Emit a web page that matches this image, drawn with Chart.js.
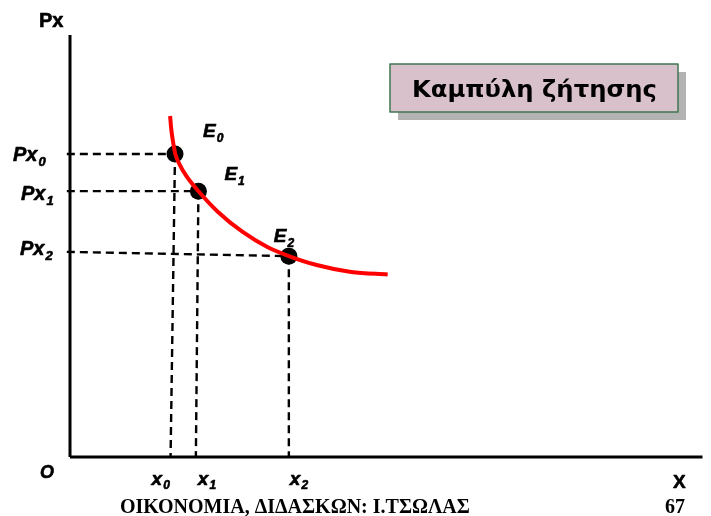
<!DOCTYPE html>
<html>
<head>
<meta charset="utf-8">
<script src="https://cdn.jsdelivr.net/npm/chart.js@4"></script>
<style>
html,body{margin:0;padding:0;background:#fff;}
#c{display:block;}
</style>
</head>
<body>
<canvas id="c" width="711" height="516"></canvas>
<script>
// ---- data (quantity X on 0..100, price Px on 0..100) ----
const curveX = [15.83, 15.99, 16.22, 16.46, 16.65, 17.32, 18.41, 20.28, 23.40, 27.30, 31.20, 34.59, 39.00, 44.46, 50.23];
const curveY = [80.81, 77.96, 75.36, 73.22, 71.80, 69.36, 66.54, 63.03, 58.06, 53.32, 49.76, 47.63, 45.50, 43.84, 43.25];
const pointNames = ['E', 'E', 'E'];
const pointSubs = ['0', '1', '2'];
const qtyValues = [16.6, 20.3, 34.6];
const priceValues = [71.8, 63.0, 47.6];
const guideLeftY = [71.8, 63.0, 48.6];
const guideBottomX = [15.9, 19.9, 34.6];
const priceTickMain = ['Px', 'Px', 'Px'];
const priceTickSub = ['0', '1', '2'];
const qtyTickMain = ['x', 'x', 'x'];
const qtyTickSub = ['0', '1', '2'];
const axisMax = 100;
const titleText = 'Καμπύλη ζήτησης';
const yAxisTitle = 'Px';
const xAxisTitle = 'X';
const originLabel = 'O';
const footerText = 'ΟΙΚΟΝΟΜΙΑ, ΔΙΔΑΣΚΩΝ: Ι.ΤΣΩΛΑΣ';
const pageNumber = '67';

// ---- datasets ----
const datasets = [];
datasets.push({
  label: 'curve',
  data: curveX.map((x, i) => ({x, y: curveY[i]})),
  showLine: true, borderColor: '#ff0000', borderWidth: 4, pointRadius: 0,
  cubicInterpolationMode: 'monotone', order: 0, clip: false
});
datasets.push({
  label: 'points',
  data: qtyValues.map((x, i) => ({x, y: priceValues[i]})),
  showLine: false, pointRadius: 8.5, pointBackgroundColor: '#000', pointBorderColor: '#000',
  pointBorderWidth: 0, order: 1, clip: false
});
qtyValues.forEach((x, i) => {
  datasets.push({
    label: 'h' + i,
    data: [{x: -0.5, y: guideLeftY[i]}, {x, y: priceValues[i]}],
    showLine: true, borderColor: '#000', borderWidth: 2.4, borderDash: [8, 5],
    pointRadius: 0, order: 2, clip: false
  });
  datasets.push({
    label: 'v' + i,
    data: [{x, y: priceValues[i]}, {x: guideBottomX[i], y: 0}],
    showLine: true, borderColor: '#000', borderWidth: 2.4, borderDash: [8, 5],
    pointRadius: 0, order: 2, clip: false
  });
});
datasets.push({
  label: 'xaxis', data: [{x: 0, y: 0}, {x: axisMax, y: 0}],
  showLine: true, borderColor: '#000', borderWidth: 3, pointRadius: 0, order: 3, clip: false
});
datasets.push({
  label: 'yaxis', data: [{x: 0, y: 0}, {x: 0, y: axisMax}],
  showLine: true, borderColor: '#000', borderWidth: 3, pointRadius: 0, order: 3, clip: false
});

function heavyText(ctx, t, x, y) {
  ctx.fillText(t, x, y);
  ctx.strokeText(t, x, y);
}

function subText(ctx, main, sub, x, y, size, italic, subDy) {
  const st = italic ? 'italic ' : '';
  ctx.font = st + 'bold ' + size + 'px "Liberation Sans", Arial, sans-serif';
  heavyText(ctx, main, x, y);
  const w = ctx.measureText(main).width;
  ctx.font = st + 'bold ' + Math.round(size * 0.65) + 'px "Liberation Sans", Arial, sans-serif';
  heavyText(ctx, sub, x + w + 1, y + subDy);
}

const labelsPlugin = {
  id: 'labels',
  afterDraw(chart) {
    const ctx = chart.ctx;
    const xs = chart.scales.x, ys = chart.scales.y;
    ctx.save();
    ctx.fillStyle = '#000';
    ctx.strokeStyle = '#000';
    ctx.lineWidth = 0.6;
    ctx.lineJoin = 'round';
    ctx.textBaseline = 'alphabetic';
    ctx.textAlign = 'left';

    // axis titles
    ctx.font = 'bold 20px "Liberation Sans", Arial, sans-serif';
    heavyText(ctx, yAxisTitle, 39, 27);
    ctx.font = 'bold 19px "Liberation Sans", Arial, sans-serif';
    heavyText(ctx, xAxisTitle, 673, 488);
    ctx.font = 'italic bold 18px "Liberation Sans", Arial, sans-serif';
    heavyText(ctx, originLabel, 40, 478);

    // price tick labels
    const pxLeft = [13, 21, 20];
    const pxBase = [161, 200, 255];
    priceTickMain.forEach((m, i) => subText(ctx, m, priceTickSub[i], pxLeft[i], pxBase[i], 20, true, 5));

    // quantity tick labels
    qtyValues.forEach((v, i) => {
      const px = xs.getPixelForValue(guideBottomX[i]);
      subText(ctx, qtyTickMain[i], qtyTickSub[i], px - 19 + (i === 0 ? 0 : 21) + (i === 2 ? -1 : 0), 485, 19, true, 4);
    });

    // point labels
    const eOff = [[28, -17], [26, -11], [-15, -14]];
    qtyValues.forEach((v, i) => {
      const px = xs.getPixelForValue(v), py = ys.getPixelForValue(priceValues[i]);
      subText(ctx, pointNames[i], pointSubs[i], px + eOff[i][0], py + eOff[i][1], 19, true, 5);
    });

    // title box
    const bx = 390, by = 64, bw = 288, bh = 48;
    ctx.fillStyle = '#b3b3b3';
    ctx.fillRect(bx + 8, by + 8, bw, bh);
    ctx.fillStyle = '#d9c1cc';
    ctx.fillRect(bx, by, bw, bh);
    ctx.strokeStyle = '#3f7552';
    ctx.lineWidth = 1.5;
    ctx.strokeRect(bx, by, bw, bh);
    ctx.fillStyle = '#000';
    ctx.textAlign = 'left';
    ctx.font = 'bold 23px "DejaVu Sans", sans-serif';
    const tw = ctx.measureText(titleText).width;
    const target = 245;
    ctx.save();
    ctx.translate(412, by + 33);
    ctx.scale(target / tw, 1);
    ctx.fillText(titleText, 0, 0);
    ctx.restore();

    // footer
    ctx.textAlign = 'left';
    ctx.font = 'bold 20px "Liberation Serif", "Times New Roman", serif';
    ctx.fillText(footerText, 120, 513);
    ctx.fillText(pageNumber, 665, 513);
    ctx.restore();
  }
};

new Chart(document.getElementById('c'), {
  type: 'scatter',
  data: {datasets},
  options: {
    responsive: false,
    animation: false,
    devicePixelRatio: 1,
    layout: {padding: {left: 70, top: 35, right: 0, bottom: 59}},
    plugins: {legend: {display: false}, tooltip: {enabled: false}},
    scales: {
      x: {type: 'linear', min: 0, max: axisMax, display: false},
      y: {type: 'linear', min: 0, max: axisMax, display: false}
    }
  },
  plugins: [labelsPlugin]
});
</script>
</body>
</html>
